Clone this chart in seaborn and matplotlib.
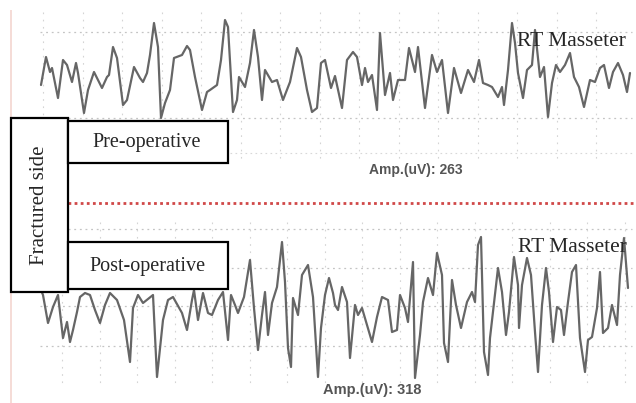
import numpy as np
import matplotlib.pyplot as plt
import seaborn as sns
from matplotlib.patches import Rectangle

# === DATA (sample position and deflection) ===
pre_x = [41, 46, 50, 52, 58, 63, 67, 72, 76, 78, 84, 88, 94, 102, 107, 109, 113, 117,
         123, 127, 134, 140, 143, 147, 150, 154, 158, 161, 165, 170, 174, 182, 187,
         190, 195, 202, 207, 210, 217, 221, 225, 228, 233, 237, 239, 245, 250, 254,
         258, 262, 265, 272, 277, 283, 290, 297, 301, 307, 312, 317, 321, 325, 331,
         335, 342, 347, 353, 357, 362, 365, 368, 372, 377, 380, 385, 390, 393, 398,
         405, 409, 415, 418, 425, 432, 437, 442, 448, 454, 461, 468, 474, 479, 483,
         488, 492, 498, 502, 504, 508, 512, 515, 518, 523, 527, 532, 535, 540, 544,
         548, 552, 556, 560, 565, 570, 574, 579, 584, 590, 595, 600, 604, 609, 613,
         618, 623, 627, 630]
pre_y = [85, 57, 72, 68, 98, 60, 65, 82, 63, 73, 113, 90, 72, 88, 77, 75, 47, 58,
         105, 100, 67, 78, 82, 73, 55, 23, 47, 118, 103, 90, 58, 55, 46,
         50, 77, 110, 92, 90, 85, 60, 20, 27, 112, 100, 77, 87, 63, 30,
         57, 100, 70, 82, 80, 100, 82, 48, 57, 90, 112, 108, 63, 60, 88,
         76, 108, 60, 52, 57, 85, 68, 82, 75, 110, 33, 95, 73, 100, 80,
         80, 48, 72, 47, 108, 55, 72, 60, 113, 68, 93, 70, 82, 60, 83,
         85, 87, 97, 87, 105, 70, 23, 43, 73, 98, 70, 65, 30, 77, 67,
         117, 83, 65, 72, 65, 53, 77, 87, 107, 80, 82, 68, 65, 88, 72,
         63, 75, 92, 73]

post_x = [41, 43, 48, 53, 58, 63, 67, 70, 73, 77, 80, 85, 90, 95, 100, 105, 110, 117,
          124, 130, 133, 138, 143, 153, 157, 163, 168, 173, 182, 187, 192, 194, 198,
          203, 208, 212, 218, 223, 228, 231, 235, 238, 244, 250, 254, 258, 262, 265,
          268, 272, 277, 282, 285, 288, 291, 293, 298, 302, 308, 313, 318, 321, 325,
          329, 333, 335, 338, 342, 347, 350, 355, 358, 362, 367, 372, 377, 382, 388,
          392, 397, 400, 405, 408, 413, 415, 420, 423, 428, 433, 437, 442, 444, 448,
          452, 456, 461, 467, 472, 475, 478, 481, 484, 488, 490, 493, 498, 502, 506,
          509, 514, 518, 519, 522, 527, 531, 535, 538, 542, 546, 549, 553, 557, 561,
          564, 568, 572, 576, 580, 585, 588, 592, 597, 600, 603, 608, 612, 617, 620,
          624, 628]
post_y = [290, 295, 323, 307, 295, 338, 322, 342, 330, 312, 297, 293, 295, 310, 323, 305, 293, 300,
          320, 362, 308, 295, 303, 295, 377, 320, 300, 297, 313, 330, 300, 290, 320,
          293, 313, 315, 300, 292, 340, 295, 305, 313, 297, 260, 308, 350, 315, 292,
          335, 303, 287, 242, 282, 348, 367, 298, 315, 275, 265, 297, 377, 328, 295,
          278, 293, 305, 310, 287, 302, 358, 305, 315, 308, 325, 342, 317, 297, 300,
          332, 330, 295, 308, 322, 262, 378, 335, 302, 278, 295, 253, 275, 343, 362,
          280, 305, 328, 302, 292, 302, 245, 237, 352, 375, 338, 312, 268, 292, 335,
          312, 257, 285, 328, 285, 258, 275, 332, 372, 305, 268, 292, 342, 307, 310,
          335, 302, 272, 265, 338, 372, 340, 337, 308, 272, 333, 328, 305, 325, 275,
          238, 288]

pre_amp = 263
post_amp = 318

# === FIGURE ===
sns.set_theme(style="white")
plt.rcParams['font.family'] = ['Liberation Serif', 'DejaVu Serif']

fig = plt.figure(figsize=(6.36, 4.03), dpi=100)
ax = fig.add_axes([0, 0, 1, 1])
ax.set_xlim(0, 636)
ax.set_ylim(403, 0)
ax.axis("off")

grid_kw = dict(color="#c4c4c4", lw=0.9, ls=(0, (1.5, 3)), zorder=1)

# top panel grid
for gy in [32, 118]:
    ax.hlines(gy, 40, 632, **grid_kw)
ax.hlines(153, 230, 632, color="#d8d8d8", lw=0.8, ls=(0, (1.5, 3)), zorder=1)
for gx in np.arange(43, 632, 39.5):
    ax.vlines(gx, 12, 160, color="#d4d4d4", lw=0.8, ls=(0, (1.5, 5)), zorder=1)

# bottom panel grid
for gy in [229, 268, 306, 346]:
    ax.hlines(gy, 40, 632, **grid_kw)
for gx in np.arange(62, 632, 37.5):
    ax.vlines(gx, 222, 385, color="#d4d4d4", lw=0.8, ls=(0, (1.5, 5)), zorder=1)

# faint left border
ax.vlines(11, 10, 403, color="#f3d6d0", lw=1.2, zorder=1)

# traces
sns.lineplot(x=pre_x, y=pre_y, ax=ax, sort=False, estimator=None,
             color="#666666", lw=1.6, zorder=3)
sns.lineplot(x=post_x, y=post_y, ax=ax, sort=False, estimator=None,
             color="#666666", lw=1.6, zorder=3)

# red divider
ax.hlines(203, 68, 636, color="#d04848", lw=2.0, ls=(0, (1, 1.2)), zorder=2)

# label boxes
box_kw = dict(facecolor="white", edgecolor="black", lw=1.6, zorder=5)
ax.add_patch(Rectangle((11, 118), 57, 174, **box_kw))
ax.add_patch(Rectangle((68, 121), 160, 42, **box_kw))
ax.add_patch(Rectangle((68, 242), 160, 47, **box_kw))

ax.text(40, 205, "Fractured side", rotation=90, ha="center", va="center",
        fontsize=15, zorder=6)
ax.text(147, 142, "Pre-operative", ha="center", va="center", fontsize=14.5, zorder=6)
ax.text(148, 266, "Post-operative", ha="center", va="center", fontsize=14.5, zorder=6)

ax.text(571, 42, "RT Masseter", ha="center", va="center", fontsize=15.5, zorder=6)
ax.text(572, 247, "RT Masseter", ha="center", va="center", fontsize=15.5, zorder=6)

ax.text(369, 170, f"Amp.(uV): {pre_amp}", ha="left", va="center", fontsize=10,
        family=["Liberation Sans", "DejaVu Sans"], weight="bold", color="#555555", zorder=6)
ax.text(323, 390, f"Amp.(uV): {post_amp}", ha="left", va="center", fontsize=10.5,
        family=["Liberation Sans", "DejaVu Sans"], weight="bold", color="#555555", zorder=6)

fig.savefig("out.png", dpi=100)
